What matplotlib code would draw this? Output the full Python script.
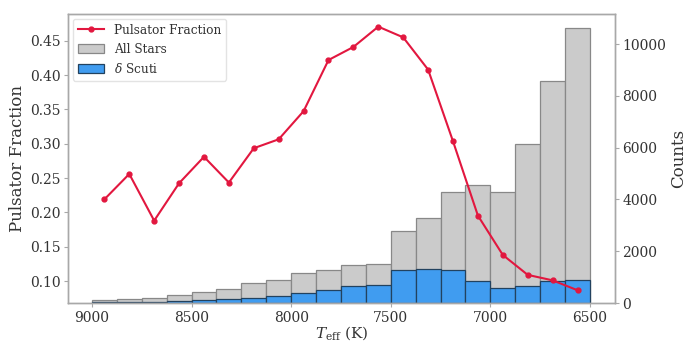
import numpy as np
import matplotlib
matplotlib.use("Agg")
import matplotlib.pyplot as plt

plt.rcParams['font.family'] = 'DejaVu Serif'
plt.rcParams['mathtext.fontset'] = 'dejavuserif'

# bin centres in Teff (K), 125 K wide bins from 9000 down to 6500
teff = np.arange(8937.5, 6500, -125.0)

# counts per bin
all_stars = [130, 145, 206, 306, 421, 545, 754, 895, 1148, 1262,
             1469, 1519, 2770, 3290, 4300, 4552, 4300, 6148, 8569, 10635]
dsct = [30, 40, 55, 65, 115, 155, 206, 256, 398, 513,
        645, 704, 1262, 1327, 1277, 857, 562, 639, 857, 907]

# pulsator fraction per bin
frac = [0.219, 0.256, 0.188, 0.2425, 0.281, 0.2435, 0.2935, 0.3065, 0.3475, 0.422,
        0.441, 0.4706, 0.455, 0.408, 0.3036, 0.1953, 0.138, 0.109, 0.101, 0.0866]

spine_col = '#a8a8a8'
txt_col = '#333333'

fig = plt.figure(figsize=(6.94, 3.42), dpi=100)
ax = fig.add_axes([0.098, 0.114, 0.788, 0.845])
ax2 = ax.twinx()

ax2.bar(teff, all_stars, width=125, color='#cbcbcb', edgecolor='#888888', linewidth=0.9, label='All Stars')
ax2.bar(teff, dsct, width=125, color='#409cf0', edgecolor='#22425f', linewidth=0.9, label=r'$\delta$ Scuti')

ln, = ax.plot(teff, frac, color='#e2173f', marker='o', markersize=3.5, linewidth=1.5, label='Pulsator Fraction')

ax.set_zorder(ax2.get_zorder() + 1)
ax.patch.set_visible(False)

ax.set_xlim(9120, 6375)
ax.set_ylim(0.068, 0.489)
ax2.set_ylim(0, 11160)
ax.set_xticks([9000, 8500, 8000, 7500, 7000, 6500])
ax.set_yticks([0.10, 0.15, 0.20, 0.25, 0.30, 0.35, 0.40, 0.45])
ax2.set_yticks([0, 2000, 4000, 6000, 8000, 10000])

for a in (ax, ax2):
    for s in a.spines.values():
        s.set_color(spine_col)
        s.set_linewidth(1.0)
    a.tick_params(colors=spine_col, labelcolor=txt_col, labelsize=10, length=3, pad=2.5)

ax.set_xlabel(r'$T_{\rm eff}$ (K)', fontsize=11, color=txt_col, labelpad=0)
ax.set_ylabel('Pulsator Fraction', fontsize=12, color=txt_col, labelpad=3)
ax2.set_ylabel('Counts', fontsize=12, color=txt_col, labelpad=3)

h2, l2 = ax2.get_legend_handles_labels()
leg = ax.legend([ln] + h2, ['Pulsator Fraction'] + l2, loc='upper left', fontsize=8.7,
                frameon=True, borderaxespad=0.4, handlelength=2.2)
leg.get_frame().set_edgecolor('#dddddd')
for t in leg.get_texts():
    t.set_color(txt_col)

fig.savefig('out.png', dpi=100)
